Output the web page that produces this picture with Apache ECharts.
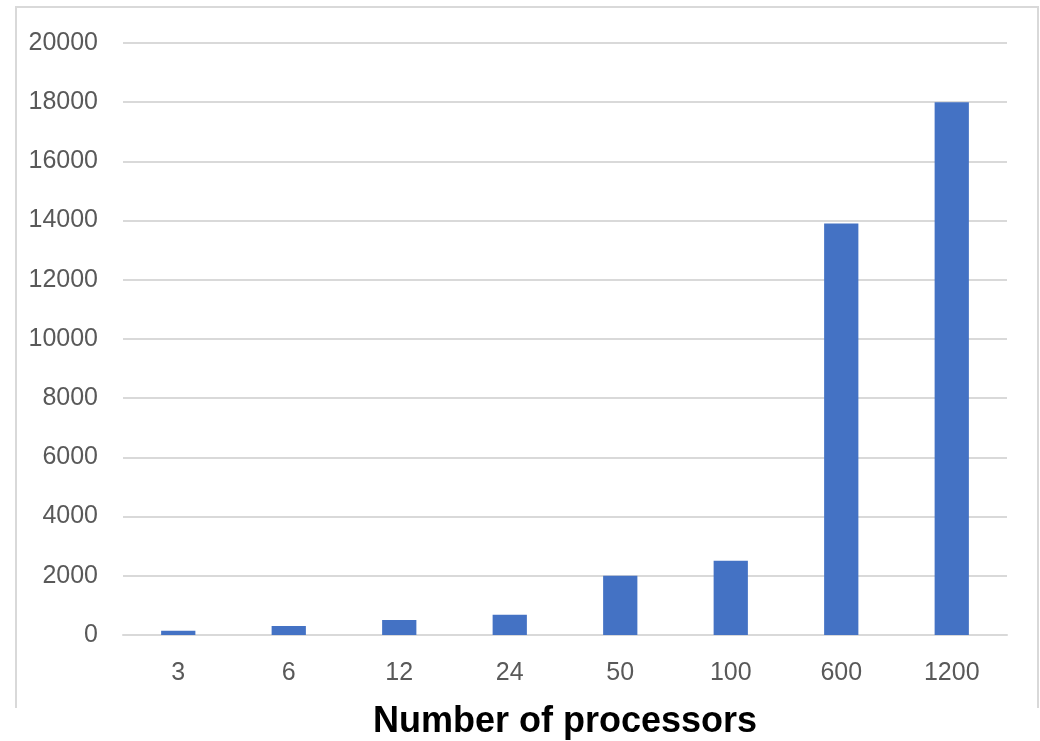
<!DOCTYPE html>
<html>
<head>
<meta charset="utf-8">
<script src="https://cdn.jsdelivr.net/npm/echarts@6/dist/echarts.min.js"></script>
<style>
html,body{margin:0;padding:0;background:#fff;}
#chart{width:1040px;height:741px;}
</style>
</head>
<body>
<div id="chart"></div>
<script>
const categories = ['3', '6', '12', '24', '50', '100', '600', '1200'];
const values = [145, 305, 505, 680, 2000, 2510, 13900, 18000];
const yTicks = { min: 0, max: 20000, interval: 2000 };
const xAxisTitle = 'Number of processors';

const chart = echarts.init(document.getElementById('chart'), null, { renderer: 'canvas' });
const tickFont = { color: '#595959', fontSize: 25, fontFamily: 'Liberation Sans Narrow, Liberation Sans, sans-serif' };

chart.setOption({
  animation: false,
  backgroundColor: '#ffffff',
  grid: { left: 123, right: 33, top: 43, bottom: 106, containLabel: false, outerBoundsMode: 'none' },
  graphic: [
    { type: 'polyline', silent: true,
      shape: { points: [[16, 708], [16, 7], [1038, 7], [1038, 708]] },
      style: { stroke: '#d9d9d9', lineWidth: 2, fill: null } }
  ],
  xAxis: {
    type: 'category',
    data: categories,
    name: xAxisTitle,
    nameLocation: 'middle',
    nameGap: 69,
    nameTextStyle: { color: '#000000', fontSize: 36, fontWeight: 'bold', fontFamily: 'Liberation Sans, Arial, sans-serif' },
    axisLine: { show: true, lineStyle: { color: '#d9d9d9', width: 2 } },
    axisTick: { show: false },
    axisLabel: Object.assign({ margin: 26 }, tickFont)
  },
  yAxis: {
    type: 'value',
    min: yTicks.min, max: yTicks.max, interval: yTicks.interval,
    axisLine: { show: false },
    axisTick: { show: false },
    splitLine: { show: true, lineStyle: { color: '#d9d9d9', width: 2 } },
    axisLabel: Object.assign({ margin: 25, formatter: function (v) { return String(v); } }, tickFont)
  },
  series: [{
    type: 'bar',
    data: values,
    barWidth: '31%',
    itemStyle: { color: '#4472C4' }
  }]
});
</script>
</body>
</html>
